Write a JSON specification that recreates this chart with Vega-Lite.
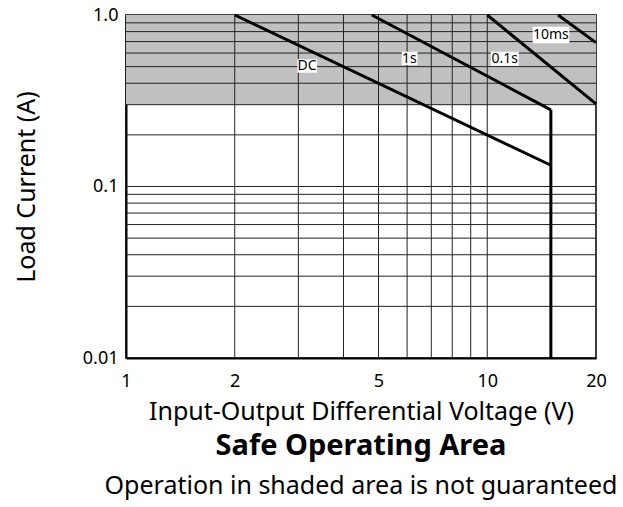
{
  "$schema": "https://vega.github.io/schema/vega-lite/v6.json",
  "width": 470,
  "height": 343,
  "autosize": "none",
  "padding": {"left": 126, "top": 15, "right": 27, "bottom": 149},
  "background": "white",
  "config": {
    "font": "Noto Sans",
    "view": {"stroke": "black", "strokeWidth": 1.5}
  },
  "title": {
    "text": "Safe Operating Area",
    "subtitle": "Operation in shaded area is not guaranteed",
    "orient": "bottom",
    "anchor": "middle",
    "fontSize": 29,
    "fontWeight": "bold",
    "color": "black",
    "subtitleFontSize": 25,
    "subtitleColor": "black",
    "subtitlePadding": 13,
    "offset": 8
  },
  "datasets": {
    "shade": [{"x": 1, "x2": 20, "y": 0.3, "y2": 1.0}],
    "vgrid": [{"x": 2}, {"x": 3}, {"x": 4}, {"x": 5}, {"x": 6}, {"x": 7}, {"x": 8}, {"x": 9}, {"x": 10}],
    "hgrid": [
      {"y": 0.02}, {"y": 0.03}, {"y": 0.04}, {"y": 0.05}, {"y": 0.06}, {"y": 0.07}, {"y": 0.08}, {"y": 0.09}, {"y": 0.1},
      {"y": 0.2}, {"y": 0.3}, {"y": 0.4}, {"y": 0.5}, {"y": 0.6}, {"y": 0.7}, {"y": 0.8}, {"y": 0.9}
    ],
    "curves": [
      {"s": "DC", "x": 2, "y": 1.0},
      {"s": "DC", "x": 15, "y": 0.133},
      {"s": "1s", "x": 4.79, "y": 1.0},
      {"s": "1s", "x": 15, "y": 0.28},
      {"s": "lim", "x": 15, "y": 0.28},
      {"s": "lim", "x": 15, "y": 0.01},
      {"s": "0.1s", "x": 10, "y": 1.0},
      {"s": "0.1s", "x": 20, "y": 0.303},
      {"s": "10ms", "x": 15.7, "y": 1.0},
      {"s": "10ms", "x": 20, "y": 0.69}
    ],
    "labels": [
      {"t": "DC", "x": 2.98, "x2": 3.38, "y": 0.461, "y2": 0.552, "tx": 3.17, "ty": 0.503},
      {"t": "1s", "x": 5.80, "x2": 6.41, "y": 0.511, "y2": 0.611, "tx": 6.09, "ty": 0.557},
      {"t": "0.1s", "x": 10.22, "x2": 12.22, "y": 0.506, "y2": 0.611, "tx": 11.17, "ty": 0.555},
      {"t": "10ms", "x": 13.36, "x2": 16.87, "y": 0.684, "y2": 0.855, "tx": 15.0, "ty": 0.763}
    ]
  },
  "layer": [
    {
      "data": {"name": "shade"},
      "mark": {"type": "rect", "color": "#c0c0c0"},
      "encoding": {
        "x": {
          "field": "x", "type": "quantitative",
          "scale": {"type": "log", "domain": [1, 20], "nice": false},
          "axis": {
            "title": "Input-Output Differential Voltage (V)",
            "values": [1, 2, 5, 10, 20],
            "format": "d",
            "grid": false,
            "ticks": false,
            "tickSize": 0,
            "domain": true,
            "domainColor": "black",
            "domainWidth": 2,
            "labelFontSize": 18,
            "labelColor": "black",
            "labelPadding": 14,
            "labelFlush": false,
            "titleFontSize": 25,
            "titleFontWeight": "normal",
            "titleColor": "black",
            "titlePadding": 9
          }
        },
        "x2": {"field": "x2"},
        "y": {
          "field": "y", "type": "quantitative",
          "scale": {"type": "log", "domain": [0.01, 1], "nice": false},
          "axis": {
            "title": "Load Current (A)",
            "values": [0.01, 0.1, 1],
            "labelExpr": "datum.value >= 0.99 ? '1.0' : (datum.value >= 0.099 ? '0.1' : '0.01')",
            "grid": false,
            "ticks": false,
            "tickSize": 0,
            "domain": true,
            "domainColor": "black",
            "domainWidth": 2,
            "labelFontSize": 18,
            "labelColor": "black",
            "labelPadding": 8,
            "titleFontSize": 25,
            "titleFontWeight": "normal",
            "titleColor": "black",
            "titlePadding": 43
          }
        },
        "y2": {"field": "y2"}
      }
    },
    {
      "data": {"name": "vgrid"},
      "mark": {"type": "rule", "color": "#222222", "strokeWidth": 1},
      "encoding": {
        "x": {"field": "x", "type": "quantitative"}
      }
    },
    {
      "data": {"name": "hgrid"},
      "mark": {"type": "rule", "color": "#222222", "strokeWidth": 1},
      "encoding": {
        "y": {"field": "y", "type": "quantitative"}
      }
    },
    {
      "data": {"name": "curves"},
      "mark": {"type": "line", "color": "black", "strokeWidth": 3, "strokeJoin": "miter"},
      "encoding": {
        "x": {"field": "x", "type": "quantitative"},
        "y": {"field": "y", "type": "quantitative"},
        "detail": {"field": "s", "type": "nominal"}
      }
    },
    {
      "data": {"name": "labels"},
      "mark": {"type": "rect", "color": "white"},
      "encoding": {
        "x": {"field": "x", "type": "quantitative"},
        "x2": {"field": "x2"},
        "y": {"field": "y", "type": "quantitative"},
        "y2": {"field": "y2"}
      }
    },
    {
      "data": {"name": "labels"},
      "mark": {"type": "text", "color": "black", "fontSize": 14, "align": "center", "baseline": "middle"},
      "encoding": {
        "x": {"field": "tx", "type": "quantitative"},
        "y": {"field": "ty", "type": "quantitative"},
        "text": {"field": "t", "type": "nominal"}
      }
    }
  ]
}
